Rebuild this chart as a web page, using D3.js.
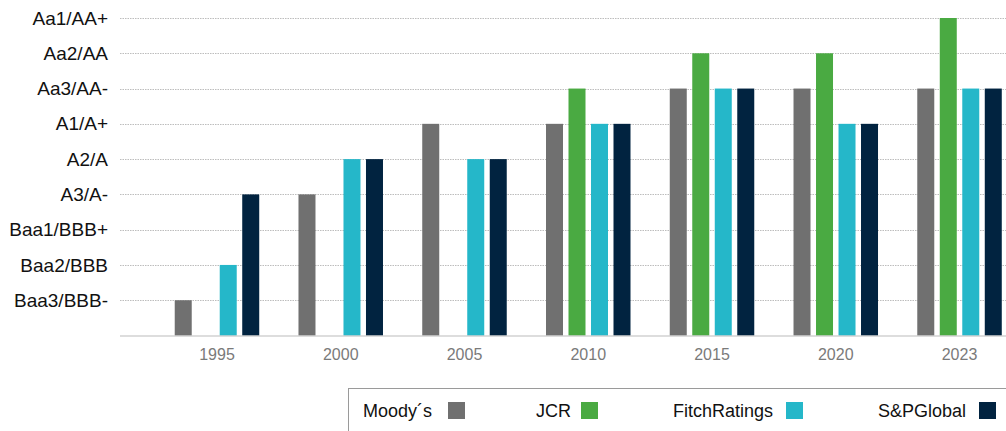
<!DOCTYPE html>
<html>
<head>
<meta charset="utf-8">
<script src="https://cdn.jsdelivr.net/npm/d3@7"></script>
<style>
  html, body { margin: 0; padding: 0; background: #fff; }
  svg { display: block; font-family: "Liberation Sans", Arial, Helvetica, sans-serif; }
</style>
</head>
<body>
<svg id="chart" width="1006" height="431"></svg>
<script>
// Rating levels (1 = Baa3/BBB-, 9 = Aa1/AA+)
const ratingLabels = ["Baa3/BBB-", "Baa2/BBB", "Baa1/BBB+", "A3/A-", "A2/A", "A1/A+", "Aa3/AA-", "Aa2/AA", "Aa1/AA+"];
const years = ["1995", "2000", "2005", "2010", "2015", "2020", "2023"];
const seriesNames = ["Moody´s", "JCR", "FitchRatings", "S&PGlobal"];
const seriesColors = ["#707070", "#4aaa42", "#25b7c9", "#012340"];

// values per year (null = no rating shown)
const moodys = [1, 4, 6, 6, 7, 7, 7];
const jcr    = [null, null, null, 7, 8, 8, 9];
const fitch  = [2, 5, 5, 6, 7, 6, 7];
const sp     = [4, 5, 5, 6, 7, 6, 7];
const seriesValues = [moodys, jcr, fitch, sp];

const svg = d3.select("#chart");

const plotLeft = 120, plotRight = 1006;
const y = d3.scaleLinear().domain([0, 9]).range([335.5, 18]);

const x0 = d3.scaleBand().domain(years).range([155.1, 1021.4]).padding(0);
const x1 = d3.scaleBand().domain(seriesNames).range([-42.25, 42.25]).paddingInner(5.5 / 22.5).paddingOuter(0);

// gridlines
const levels = d3.range(1, 10);
svg.append("g").selectAll("line").data(levels).join("line")
  .attr("x1", plotLeft).attr("x2", plotRight)
  .attr("y1", d => Math.round(y(d)) + 0.5).attr("y2", d => Math.round(y(d)) + 0.5)
  .attr("stroke", "#bdbdbd").attr("stroke-width", 1)
  .attr("stroke-dasharray", "1.5,1");

// y-axis labels
svg.append("g").selectAll("text").data(levels).join("text")
  .attr("x", 108).attr("y", d => y(d))
  .attr("dy", "0.35em")
  .attr("text-anchor", "end")
  .attr("font-size", 19)
  .attr("fill", "#111")
  .text(d => ratingLabels[d - 1]);

// bars
const barData = [];
years.forEach((yr, i) => {
  seriesNames.forEach((s, j) => {
    const v = seriesValues[j][i];
    if (v != null) barData.push({ year: yr, series: s, value: v, color: seriesColors[j] });
  });
});
svg.append("g").selectAll("rect").data(barData).join("rect")
  .attr("x", d => x0(d.year) + x0.bandwidth() / 2 + x1(d.series))
  .attr("width", x1.bandwidth())
  .attr("y", d => y(d.value))
  .attr("height", d => y(0) - y(d.value))
  .attr("fill", d => d.color);

// baseline
svg.append("line")
  .attr("x1", plotLeft).attr("x2", plotRight)
  .attr("y1", 336).attr("y2", 336)
  .attr("stroke", "#bbbbbb").attr("stroke-width", 1.2);

// x labels
const xAxis = d3.axisBottom(x0).tickSize(0).tickPadding(0);
const xg = svg.append("g").attr("transform", "translate(0,349)").call(xAxis);
xg.select(".domain").remove();
xg.selectAll("text")
  .attr("font-size", 16)
  .attr("fill", "#7a7a7a")
  .attr("font-family", "Liberation Sans, Arial, sans-serif")
  .attr("dy", "0.71em");

// legend
const lg = svg.append("g");
lg.append("rect")
  .attr("x", 348.5).attr("y", 388.5)
  .attr("width", 700).attr("height", 60)
  .attr("fill", "#fff").attr("stroke", "#9a9a9a").attr("stroke-width", 1);
const legendTextX = [363, 536, 673, 878];
const legendSwatchX = [448, 581, 786, 979];
seriesNames.forEach((s, i) => {
  lg.append("text")
    .attr("x", legendTextX[i]).attr("y", 417)
    .attr("font-size", 18)
    .attr("fill", "#111")
    .text(s);
  lg.append("rect")
    .attr("x", legendSwatchX[i]).attr("y", 402)
    .attr("width", 17).attr("height", 17)
    .attr("fill", seriesColors[i]);
});
</script>
</body>
</html>
